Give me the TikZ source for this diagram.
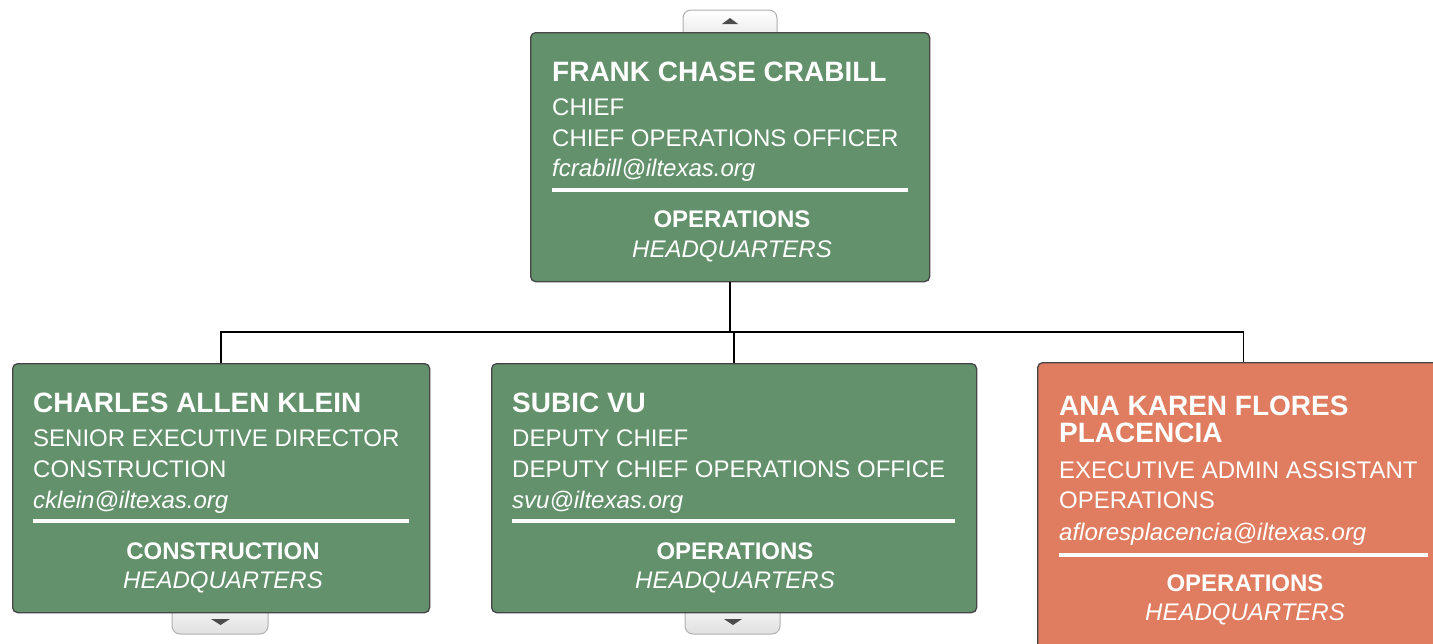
\documentclass[tikz,border=0pt]{standalone}
\usepackage{fontspec}
\setmainfont{Liberation Sans}
\usetikzlibrary{calc,positioning}

\definecolor{cardgreen}{RGB}{99,145,108}
\definecolor{cardorange}{RGB}{224,124,96}
\definecolor{cardedge}{RGB}{70,70,70}
\definecolor{tabedge}{RGB}{175,175,175}

\begin{document}
\begin{tikzpicture}[x=1pt,y=-1pt,
    card/.style={draw=cardedge, line width=1.3pt, rounded corners=5pt, anchor=north west,
      inner sep=0pt, minimum height=249pt},
    pname/.style={text=white, anchor=base west, inner sep=0pt, font=\bfseries\fontsize{28}{30}\selectfont},
    pline/.style={text=white, anchor=base west, inner sep=0pt, font=\fontsize{24}{28}\selectfont},
    pmail/.style={pline, font=\itshape\fontsize{24}{28}\selectfont},
    pdept/.style={text=white, anchor=base, inner sep=0pt, font=\bfseries\fontsize{24}{28}\selectfont},
    ploc/.style={text=white, anchor=base, inner sep=0pt, font=\itshape\fontsize{24}{28}\selectfont},
    rule/.style={white, line width=4pt},
    link/.style={black, line width=1.6pt},
    tabbox/.style={draw=tabedge, line width=1pt, rounded corners=8pt, top color=white, bottom color=black!12},
    tabtip/.style={fill=black!70, draw=none}]

  % page frame
  \useasboundingbox (0,0) rectangle (1433,643);
  \clip (0,0) rectangle (1433,643);

  % expand tabs (drawn under the cards)
  \draw[tabbox] (683,10) rectangle (777,50);
  \draw[tabbox] (172,595) rectangle (268,634);
  \draw[tabbox] (685,595) rectangle (780,634);
  \fill[tabtip] (722,24) -- (738,24) -- (730,18) -- cycle;
  \fill[tabtip] (211,619) -- (230,619) -- (220.5,625) -- cycle;
  \fill[tabtip] (724,619) -- (742,619) -- (733,625) -- cycle;

  % cards
  \node[card, fill=cardgreen, minimum width=399pt] (ceo) at (530,32) {};
  \node[card, fill=cardgreen, minimum width=417pt] (b1) at (12,363) {};
  \node[card, fill=cardgreen, minimum width=485pt] (b2) at (491,363) {};
  \node[card, fill=cardorange, minimum width=412pt, minimum height=300pt] (b3) at (1037,362) {};

  % connectors
  \coordinate (bus) at (730,332);
  \draw[link] (ceo.south) -- (ceo.south |- bus);
  \draw[link] (b1.north) |- (bus) -| (b3.north);
  \draw[link] (b2.north) -- (b2.north |- bus);

  % top card text
  \node[pname] (ceoname) at (552,81) {FRANK CHASE CRABILL};
  \node[pline] (ceotitle) at (552,115) {CHIEF};
  \node[pline] (ceopost) at (552,146) {CHIEF OPERATIONS OFFICER};
  \node[pmail] (ceomail) at (552,176) {fcrabill@iltexas.org};
  \draw[rule] (552,190) -- (908,190);
  \node[pdept] (ceodept) at (732,227) {OPERATIONS};
  \node[ploc] (ceoloc) at (732,257) {HEADQUARTERS};

  % first card text
  \node[pname] (b1name) at (33,412) {CHARLES ALLEN KLEIN};
  \node[pline] (b1title) at (33,446) {SENIOR EXECUTIVE DIRECTOR};
  \node[pline] (b1post) at (33,477) {CONSTRUCTION};
  \node[pmail] (b1mail) at (33,508) {cklein@iltexas.org};
  \draw[rule] (33,521) -- (409,521);
  \node[pdept] (b1dept) at (223,559) {CONSTRUCTION};
  \node[ploc] (b1loc) at (223,588) {HEADQUARTERS};

  % second card text
  \node[pname] (b2name) at (512,412) {SUBIC VU};
  \node[pline] (b2title) at (512,446) {DEPUTY CHIEF};
  \node[pline] (b2post) at (512,477) {DEPUTY CHIEF OPERATIONS OFFICE};
  \node[pmail] (b2mail) at (512,508) {svu@iltexas.org};
  \draw[rule] (512,521) -- (955,521);
  \node[pdept] (b2dept) at (735,559) {OPERATIONS};
  \node[ploc] (b2loc) at (735,588) {HEADQUARTERS};

  % third card text
  \node[pname] (b3name) at (1059,415) {ANA KAREN FLORES};
  \node[pname] (b3name2) at (1059,442) {PLACENCIA};
  \node[pline] (b3title) at (1059,478) {EXECUTIVE ADMIN ASSISTANT};
  \node[pline] (b3post) at (1059,508) {OPERATIONS};
  \node[pmail] (b3mail) at (1059,540) {afloresplacencia@iltexas.org};
  \draw[rule] (1059,555) -- (1428,555);
  \node[pdept] (b3dept) at (1245,591) {OPERATIONS};
  \node[ploc] (b3loc) at (1245,620) {HEADQUARTERS};
\end{tikzpicture}
\end{document}
